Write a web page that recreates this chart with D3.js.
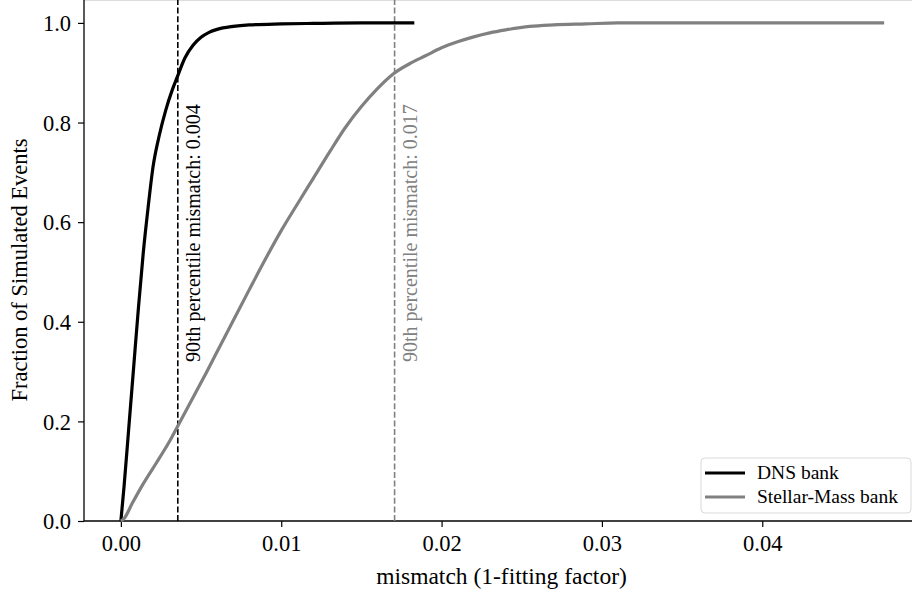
<!DOCTYPE html>
<meta charset="utf-8">
<title>mismatch CDF</title>
<style>
body { margin: 0; background: #fff; }
svg { display: block; }
text { font-family: "Liberation Serif", "DejaVu Serif", serif; }
</style>
<body>
<div id="chart"></div>
<script src="https://cdn.jsdelivr.net/npm/d3@7"></script>
<script>
// cumulative fraction of events vs mismatch
var dnsMismatch = [0, 0.0002, 0.0005, 0.0008, 0.0011, 0.0014, 0.0017, 0.0020, 0.0024, 0.0028,
  0.0032, 0.0035, 0.0040, 0.0045, 0.0050, 0.0055, 0.0060, 0.0070, 0.0080, 0.0100, 0.0120, 0.0150, 0.0183];
var dnsFraction = [0, 0.07, 0.19, 0.31, 0.43, 0.54, 0.63, 0.71, 0.775, 0.825,
  0.865, 0.89, 0.93, 0.955, 0.971, 0.981, 0.987, 0.993, 0.996, 0.998, 0.999, 1.0, 1.0];

var smMismatch = [0, 0.0002, 0.0007, 0.0014, 0.0022, 0.0030, 0.0037, 0.0045, 0.0052, 0.0060,
  0.0070, 0.0080, 0.0090, 0.0100, 0.0110, 0.0120, 0.0130, 0.0140, 0.0150, 0.0160,
  0.0170, 0.0180, 0.0190, 0.0200, 0.0210, 0.0220, 0.0230, 0.0240, 0.0255, 0.0270,
  0.0290, 0.0310, 0.0476];
var smFraction = [0, 0.005, 0.035, 0.075, 0.116, 0.158, 0.200, 0.248, 0.290, 0.340,
  0.402, 0.464, 0.525, 0.583, 0.636, 0.688, 0.740, 0.790, 0.832, 0.868,
  0.898, 0.918, 0.934, 0.950, 0.962, 0.972, 0.980, 0.986, 0.993, 0.996,
  0.998, 1.0, 1.0];

var p90 = [0.00355, 0.01707];
var p90Labels = ["90th percentile mismatch: 0.004", "90th percentile mismatch: 0.017"];
var seriesNames = ["DNS bank", "Stellar-Mass bank"];
var seriesColors = ["#000000", "#808080"];

var xTicks = [0.00, 0.01, 0.02, 0.03, 0.04];
var yTicks = [0.0, 0.2, 0.4, 0.6, 0.8, 1.0];

var width = 912, height = 594;
var mLeft = 84, mBottom = 521, mRight = 913, mTop = 0;

var svg = d3.select("#chart").append("svg")
    .attr("width", width)
    .attr("height", height);

var x = d3.scaleLinear().domain([-0.0023, 0.0494]).range([mLeft, mRight]);
var y = d3.scaleLinear().domain([0, 1.046]).range([mBottom, mTop]);

// light top frame line
svg.append("line")
    .attr("x1", mLeft).attr("x2", width)
    .attr("y1", 0.5).attr("y2", 0.5)
    .style("stroke", "#dddddd").style("stroke-width", 1);

var xAxis = svg.append("g")
    .attr("transform", "translate(0," + mBottom + ")")
    .call(d3.axisBottom(x).tickValues(xTicks).tickFormat(d3.format(".2f")).tickSizeOuter(0).tickSize(6).tickPadding(8));
var yAxis = svg.append("g")
    .attr("transform", "translate(" + mLeft + ",0)")
    .call(d3.axisLeft(y).tickValues(yTicks).tickFormat(d3.format(".1f")).tickSizeOuter(0).tickSize(6).tickPadding(7));

[xAxis, yAxis].forEach(function(a) {
  a.select(".domain").style("stroke", "#000").style("stroke-width", 1.3);
  a.selectAll(".tick line").style("stroke", "#000").style("stroke-width", 1.2);
  a.selectAll(".tick text")
      .style("font-family", '"Liberation Serif", serif')
      .style("font-size", "22.5px")
      .style("fill", "#000");
});
yAxis.select(".domain").attr("d", "M0," + mBottom + "V0");
xAxis.select(".domain").attr("d", "M" + mLeft + ",0H" + width);
xAxis.selectAll(".tick text").attr("dy", "0.72em");
yAxis.selectAll(".tick text").attr("dy", "0.34em");

// axis labels
svg.append("text")
    .attr("x", (mLeft + mRight) / 2 + 3)
    .attr("y", 584)
    .attr("text-anchor", "middle")
    .style("font-size", "23.5px")
    .text("mismatch (1-fitting factor)");
svg.append("text")
    .attr("transform", "translate(27," + 270 + ") rotate(-90)")
    .attr("text-anchor", "middle")
    .style("font-size", "22.5px")
    .text("Fraction of Simulated Events");

// cdf curves
var line = d3.line()
    .curve(d3.curveMonotoneX)
    .x(function(d) { return x(d[0]); })
    .y(function(d) { return y(d[1]); });

var series = [d3.zip(dnsMismatch, dnsFraction), d3.zip(smMismatch, smFraction)];

// percentile markers
p90.forEach(function(v, i) {
  svg.append("line")
      .attr("x1", x(v)).attr("x2", x(v))
      .attr("y1", y(0)).attr("y2", 0)
      .style("stroke", seriesColors[i])
      .style("stroke-width", 1.6)
      .style("stroke-dasharray", "6,2.6");
  svg.append("text")
      .attr("transform", "translate(" + (x(v) + 22) + "," + 362 + ") rotate(-90)")
      .style("font-size", "20px")
      .style("fill", seriesColors[i])
      .text(p90Labels[i]);
});

series.forEach(function(s, i) {
  svg.append("path")
      .datum(s)
      .attr("d", line)
      .style("fill", "none")
      .style("stroke", seriesColors[i])
      .style("stroke-width", 3.2)
      .style("stroke-linejoin", "round")
      .style("stroke-linecap", "butt");
});

// legend
var lg = svg.append("g").attr("transform", "translate(701,458)");
lg.append("rect")
    .attr("width", 210).attr("height", 55)
    .attr("rx", 4).attr("ry", 4)
    .style("fill", "#fff").style("fill-opacity", 0.8)
    .style("stroke", "#d9d9d9").style("stroke-width", 1);
seriesNames.forEach(function(n, i) {
  var yy = 15 + i * 24;
  lg.append("line")
      .attr("x1", 4).attr("x2", 44)
      .attr("y1", yy).attr("y2", yy)
      .style("stroke", seriesColors[i]).style("stroke-width", 3.2);
  lg.append("text")
      .attr("x", 56).attr("y", yy + 6)
      .style("font-size", "19.5px")
      .text(n);
});
</script>
</body>
